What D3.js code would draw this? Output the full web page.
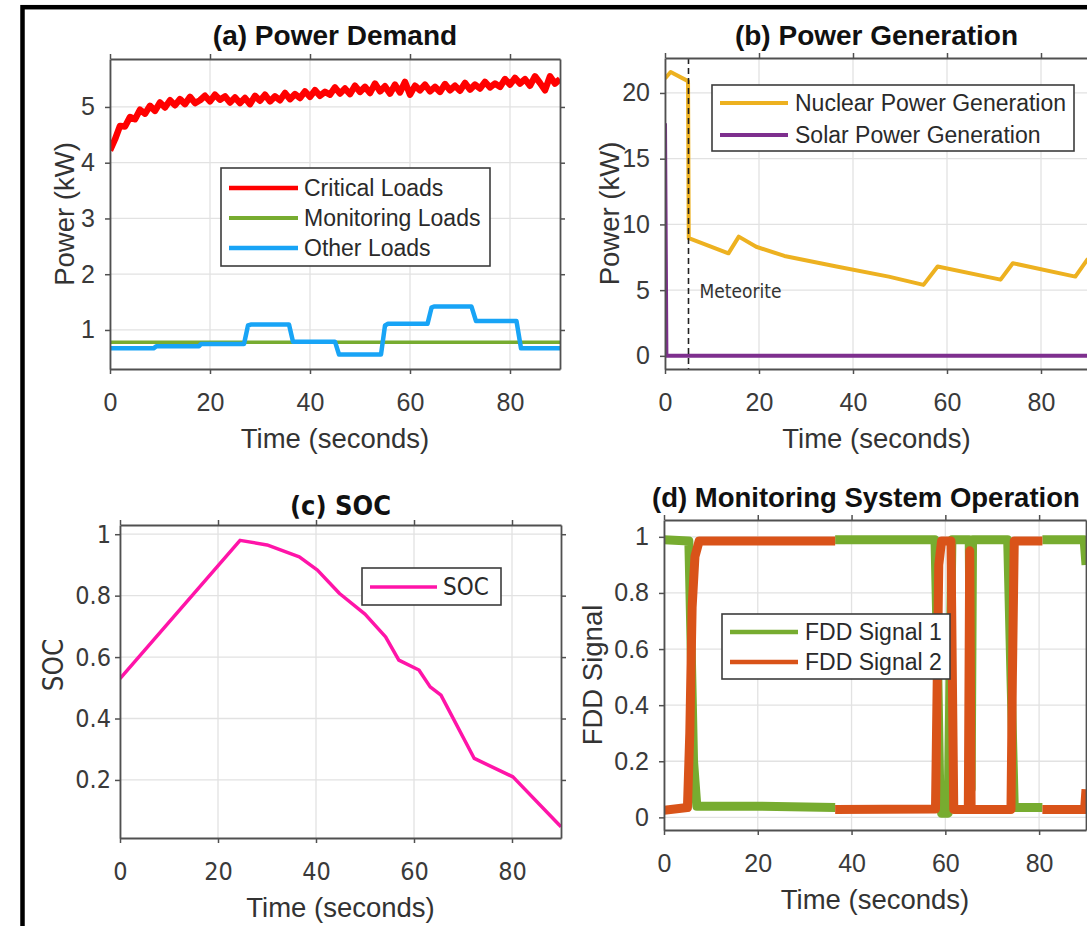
<!DOCTYPE html>
<html>
<head>
<meta charset="utf-8">
<script src="https://cdn.jsdelivr.net/npm/d3@7"></script>
<style>
body { margin: 0; background: #fff; }
svg { display: block; }
</style>
</head>
<body>
<svg id="chartsvg" width="1087" height="926"></svg>
<script>

// ---- data ----
var timeTicks = [0, 20, 40, 60, 80];
var demandTicks = [1, 2, 3, 4, 5];
var genTicks = [0, 5, 10, 15, 20];
var socTicks = [0.2, 0.4, 0.6, 0.8, 1];
var fddTicks = [0, 0.2, 0.4, 0.6, 0.8, 1];

// critical loads, one reading per second (0..90 s)
var criticalLoad = [4.22, 4.42, 4.66, 4.65, 4.82, 4.78, 4.95, 4.88, 5.02, 4.93,
    5.08, 4.99, 5.12, 5.03, 5.14, 5.05, 5.18, 5.07, 5.12, 5.20,
    5.10, 5.22, 5.13, 5.19, 5.08, 5.17, 5.07, 5.16, 5.05, 5.20,
    5.11, 5.22, 5.10, 5.19, 5.12, 5.25, 5.14, 5.23, 5.16, 5.28,
    5.18, 5.30, 5.20, 5.27, 5.22, 5.35, 5.24, 5.33, 5.23, 5.38,
    5.27, 5.36, 5.25, 5.42, 5.28, 5.37, 5.24, 5.40, 5.26, 5.45,
    5.22, 5.38, 5.30, 5.40, 5.28, 5.36, 5.27, 5.41, 5.30, 5.38,
    5.29, 5.43, 5.31, 5.40, 5.33, 5.45, 5.35, 5.42, 5.36, 5.50,
    5.40, 5.52, 5.42, 5.50, 5.38, 5.55, 5.43, 5.30, 5.55, 5.42, 5.50];
var monitoringLoad = [[0, 0.78], [90, 0.78]];
var otherLoad = [[0, 0.67], [8.7, 0.67], [9.3, 0.71], [17.8, 0.71], [18.2, 0.75], [26.8, 0.75],
    [27.6, 1.08], [28.3, 1.1], [35.8, 1.1], [36.6, 0.79], [45, 0.79], [45.8, 0.56], [54.2, 0.56],
    [55, 1.08], [55.6, 1.11], [63.5, 1.11], [64.3, 1.4], [64.8, 1.42], [72.3, 1.42], [73.2, 1.16],
    [81.3, 1.16], [82.2, 0.67], [90, 0.67]];

var nuclearGen = [[0, 21.1], [1.2, 21.6], [4.9, 20.9], [5.05, 8.95], [13.5, 7.8], [15.7, 9.07],
    [19.4, 8.3], [25.4, 7.6], [36.5, 6.8], [47.6, 6.03], [55, 5.4], [58, 6.8], [71.4, 5.8],
    [74, 7.05], [87.3, 6.03], [90, 7.4]];
var solarGen = [[0, 17.7], [0.3, 0], [90, 0]];
var meteoriteTime = 5;

var socValues = [[0, 0.53], [24.5, 0.98], [30, 0.965], [36.6, 0.926], [40.3, 0.883], [44.8, 0.807],
    [50, 0.74], [54.2, 0.666], [56.9, 0.59], [61, 0.558], [63.3, 0.503], [65.5, 0.476],
    [72.3, 0.27], [80.2, 0.21], [89.6, 0.054], [90, 0.048]];

// null = break in the trace
var fddSignal1 = [[0, 0.99], [5.3, 0.985], [5.8, 0.6], [6.3, 0.2], [7, 0.04], [20, 0.04], [36.5, 0.035], null,
    [36.5, 0.99], [57.8, 0.99], [58.3, 0.6], [58.8, 0.1], [59.2, 0.015], [60.6, 0.015], [61, 0.5],
    [61.4, 0.99], [65.1, 0.99], [65.5, 0.1], [65.8, 0.99], [73.3, 0.99], [74, 0.5], [74.7, 0.035],
    [80.7, 0.035], null, [80.7, 0.99], [89.6, 0.99], [90, 0.9]];
var fddSignal2 = [[0, 0.025], [5, 0.035], [5.5, 0.3], [6, 0.75], [6.6, 0.93], [7.5, 0.985], [36.5, 0.985], null,
    [36.5, 0.028], [57.9, 0.03], [58.2, 0.4], [58.6, 0.9], [59.2, 0.985], [61.2, 0.985], [61.5, 0.5],
    [61.8, 0.028], [64.9, 0.028], [65.2, 0.95], [65.5, 0.028], [74, 0.028], [74.3, 0.5], [74.7, 0.985],
    [80.7, 0.985], null, [80.7, 0.028], [89.7, 0.028], [90, 0.1]];

var sansFont = "'Liberation Sans', Arial, Helvetica, sans-serif";
var dinFont = "'DejaVu Sans Condensed', 'DejaVu Sans', sans-serif";

var svg = d3.select('#chartsvg');

// outer frame of the screenshot
svg.append('rect')
   .attr('x', 22.5).attr('y', 7.2)
   .attr('width', 1200).attr('height', 1000)
   .attr('fill', 'none').attr('stroke', '#000').attr('stroke-width', 4.5);

function makePanel(p)
{
    var x = d3.scaleLinear().domain([0, 90]).range([p.left, p.right]);
    var y = d3.scaleLinear().domain(p.ydomain).range([p.bottom, p.top]);
    var g = svg.append('g').attr('class', 'panel');
    var tickFont = p.tickFont || sansFont;

    g.append('clipPath').attr('id', p.id + '-clip')
     .append('rect')
       .attr('x', p.left).attr('y', p.top)
       .attr('width', p.right - p.left).attr('height', p.bottom - p.top);

    var gridG = g.append('g').attr('class', 'grid');
    gridG.selectAll('.gx').data(timeTicks).enter().append('line')
         .attr('x1', d => x(d)).attr('x2', d => x(d))
         .attr('y1', p.top).attr('y2', p.bottom);
    gridG.selectAll('.gy').data(p.yticks).enter().append('line')
         .attr('y1', d => y(d)).attr('y2', d => y(d))
         .attr('x1', p.left).attr('x2', p.right);
    gridG.selectAll('line').attr('stroke', '#e2e2e2').attr('stroke-width', 1.3);

    var dataG = g.append('g').attr('clip-path', 'url(#' + p.id + '-clip)');

    var axisG = g.append('g').attr('class', 'axes');
    axisG.append('g').attr('transform', 'translate(0,' + p.bottom + ')')
         .call(d3.axisBottom(x).tickValues(timeTicks).tickSize(5).tickSizeOuter(0).tickPadding(19));
    axisG.append('g').attr('transform', 'translate(0,' + p.top + ')')
         .call(d3.axisTop(x).tickValues(timeTicks).tickSize(5).tickSizeOuter(0).tickFormat(''));
    axisG.append('g').attr('transform', 'translate(' + p.left + ',0)')
         .call(d3.axisLeft(y).tickValues(p.yticks).tickSize(5).tickSizeOuter(0)
                 .tickPadding(p.ypad).tickFormat(p.yformat || d3.format('')));
    axisG.append('g').attr('transform', 'translate(' + p.right + ',0)')
         .call(d3.axisRight(y).tickValues(p.yticks).tickSize(5).tickSizeOuter(0).tickFormat(''));

    axisG.selectAll('.domain').attr('stroke', '#505050').attr('stroke-width', 1.8);
    axisG.selectAll('.tick line').attr('stroke', '#505050').attr('stroke-width', 1.5);
    axisG.selectAll('.tick text')
         .attr('font-family', tickFont).attr('font-size', 25).attr('fill', '#3a3a3a');

    // title
    var titleX = p.titleX || (p.left + p.right) / 2;
    g.append('text')
     .attr('x', titleX).attr('y', p.titleY)
     .attr('text-anchor', p.titleAnchor || 'middle')
     .attr('font-family', p.titleFont || sansFont).attr('font-weight', 'bold')
     .attr('font-size', p.titleSize || 28).attr('fill', '#111')
     .text(p.title);

    // x label
    g.append('text')
     .attr('x', (p.left + p.right) / 2).attr('y', p.bottom + 79)
     .attr('text-anchor', 'middle')
     .attr('font-family', sansFont).attr('font-size', 27.5).attr('fill', '#333')
     .text('Time (seconds)');

    // y label
    g.append('text')
     .attr('transform', 'translate(' + p.ylabelX + ',' + (p.ylabelY || (p.top + p.bottom) / 2) + ') rotate(-90)')
     .attr('text-anchor', 'middle')
     .attr('font-family', p.ylabelFont || sansFont).attr('font-size', 27.5).attr('fill', '#333')
     .text(p.ylabel);

    return {x: x, y: y, g: g, dataG: dataG};
}

function drawSeries(panel, points, color, width)
{
    var line = d3.line()
        .defined(d => d !== null)
        .x(d => panel.x(d[0]))
        .y(d => panel.y(d[1]));
    panel.dataG.append('path')
         .datum(points)
         .attr('d', line)
         .attr('fill', 'none')
         .attr('stroke', color)
         .attr('stroke-width', width)
         .attr('stroke-linejoin', 'round');
}

function drawLegend(panel, box, items)
{
    var lg = panel.g.append('g').attr('class', 'legend');
    lg.append('rect')
      .attr('x', box.x1).attr('y', box.y1)
      .attr('width', box.x2 - box.x1).attr('height', box.y2 - box.y1)
      .attr('fill', '#fff').attr('stroke', '#3c3c3c').attr('stroke-width', 1.6);
    var rows = lg.selectAll('.row').data(items).enter().append('g')
                 .attr('transform', (d, i) => 'translate(0,' + box.rows[i] + ')');
    rows.append('line')
        .attr('x1', box.s1).attr('x2', box.s2)
        .attr('stroke', d => d.color).attr('stroke-width', d => d.width);
    rows.append('text')
        .attr('x', box.tx).attr('dy', '0.35em')
        .attr('font-family', box.font || sansFont).attr('font-size', box.size || 23)
        .attr('fill', '#2a2a2a')
        .text(d => d.label);
}

// (a) Power Demand
var panelA = makePanel({
    id: 'pa', left: 110, right: 560, top: 59, bottom: 369,
    ydomain: [0.3, 5.86], yticks: demandTicks, ypad: 10,
    title: '(a) Power Demand', titleY: 45,
    ylabel: 'Power (kW)', ylabelX: 74
});
drawSeries(panelA, criticalLoad.map((v, i) => [i, v]), '#ff0000', 6.5);
drawSeries(panelA, monitoringLoad, '#77ac30', 3.5);
drawSeries(panelA, otherLoad, '#18a4f6', 4.5);
drawLegend(panelA, {x1: 221, x2: 490, y1: 168, y2: 266, rows: [188, 218, 248], s1: 229, s2: 298, tx: 304},
    [{label: 'Critical Loads', color: '#ff0000', width: 4.5},
     {label: 'Monitoring Loads', color: '#77ac30', width: 4},
     {label: 'Other Loads', color: '#18a4f6', width: 4.5}]);

// (b) Power Generation
var panelB = makePanel({
    id: 'pb', left: 665, right: 1088, top: 58, bottom: 369,
    ydomain: [-1, 22.66], yticks: genTicks, ypad: 10,
    title: '(b) Power Generation', titleY: 45,
    ylabel: 'Power (kW)', ylabelX: 619
});
drawSeries(panelB, nuclearGen, '#edb120', 4);
drawSeries(panelB, solarGen, '#7e2f8e', 4);
panelB.dataG.append('line')
      .attr('x1', panelB.x(meteoriteTime)).attr('x2', panelB.x(meteoriteTime))
      .attr('y1', 58).attr('y2', 369)
      .attr('stroke', '#222').attr('stroke-width', 1.6).attr('stroke-dasharray', '6,4');
panelB.g.append('text')
      .attr('x', panelB.x(meteoriteTime) + 11).attr('y', 298)
      .attr('font-family', dinFont).attr('font-size', 19).attr('fill', '#333')
      .text('Meteorite');
drawLegend(panelB, {x1: 712, x2: 1074, y1: 85, y2: 151, rows: [103, 135], s1: 720, s2: 788, tx: 795},
    [{label: 'Nuclear Power Generation', color: '#edb120', width: 4},
     {label: 'Solar Power Generation', color: '#7e2f8e', width: 4}]);

// (c) SOC
var panelC = makePanel({
    id: 'pc', left: 120, right: 561, top: 525, bottom: 838,
    ydomain: [0.011, 1.03], yticks: socTicks, ypad: 4, tickFont: dinFont,
    title: '(c) SOC', titleY: 515, titleFont: dinFont, titleSize: 27,
    ylabel: 'SOC', ylabelX: 63, ylabelY: 665, ylabelFont: dinFont
});
drawSeries(panelC, socValues, '#ff14a8', 3.5);
drawLegend(panelC, {x1: 362, x2: 501, y1: 568, y2: 605, rows: [587], s1: 370, s2: 437, tx: 443, font: dinFont, size: 24},
    [{label: 'SOC', color: '#ff14a8', width: 3.5}]);

// (d) Monitoring System Operation
var panelD = makePanel({
    id: 'pd', left: 664, right: 1086, top: 520, bottom: 830,
    ydomain: [-0.045, 1.06], yticks: fddTicks, ypad: 10,
    title: '(d) Monitoring System Operation', titleY: 507,
    titleX: 652, titleAnchor: 'start', titleSize: 27.5,
    ylabel: 'FDD Signal', ylabelX: 602
});
drawSeries(panelD, fddSignal1, '#77ac30', 9);
drawSeries(panelD, fddSignal2, '#d95319', 9);
drawLegend(panelD, {x1: 722, x2: 950, y1: 614, y2: 679, rows: [632, 662], s1: 730, s2: 798, tx: 805},
    [{label: 'FDD Signal 1', color: '#77ac30', width: 4.5},
     {label: 'FDD Signal 2', color: '#d95319', width: 4.5}]);

</script>
</body>
</html>
